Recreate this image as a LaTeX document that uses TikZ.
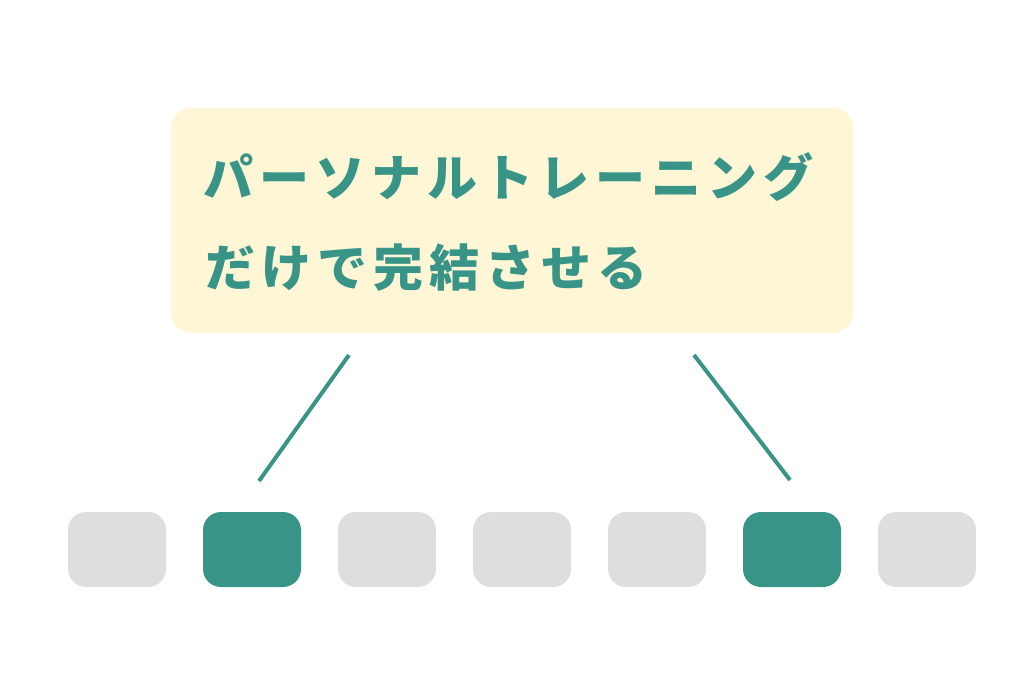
\documentclass[tikz,border=0pt]{standalone}
\usepackage{fontspec}
\newfontfamily\jpfont{Noto Sans CJK JP}
\definecolor{tealg}{RGB}{56,148,135}
\definecolor{boxyel}{RGB}{254,246,213}
\definecolor{sqgray}{RGB}{221,222,221}
\newcommand\kk{\kern6pt}
\begin{document}
\begin{tikzpicture}[x=1pt,y=-1pt,
  sq/.style={minimum width=98pt,minimum height=75pt,rounded corners=18pt,inner sep=0pt,draw=none},
  graysq/.style={sq,fill=sqgray},
  greensq/.style={sq,fill=tealg},
  link/.style={draw=tealg,line width=4pt},
  txt/.style={anchor=base west,inner sep=0pt,text=tealg,font=\jpfont\bfseries\fontsize{50}{60}\selectfont}]
\useasboundingbox (0,0) rectangle (1024,684);
\node[fill=boxyel,rounded corners=20pt,minimum width=682pt,minimum height=225pt,inner sep=0pt] (box) at (512,220.5) {};
\node[txt] (l1) at (203,197) {パ\kk ー\kk ソ\kk ナ\kk ル\kk ト\kk レ\kk ー\kk ニ\kk ン\kk グ};
\node[txt] (l2) at (205,287) {だ\kk け\kk で\kk 完\kk 結\kk さ\kk せ\kk る};
\foreach \i/\s in {1/graysq,2/greensq,3/graysq,4/graysq,5/graysq,6/greensq,7/graysq}{
  \node[\s] (s\i) at ({117+135*(\i-1)},549.5) {};
}
\coordinate (a1) at (349,355);
\coordinate (b1) at (259,481);
\coordinate (a2) at (694,355);
\coordinate (b2) at (790,480);
\draw[link] (a1) -- (b1);
\draw[link] (a2) -- (b2);
\end{tikzpicture}
\end{document}
